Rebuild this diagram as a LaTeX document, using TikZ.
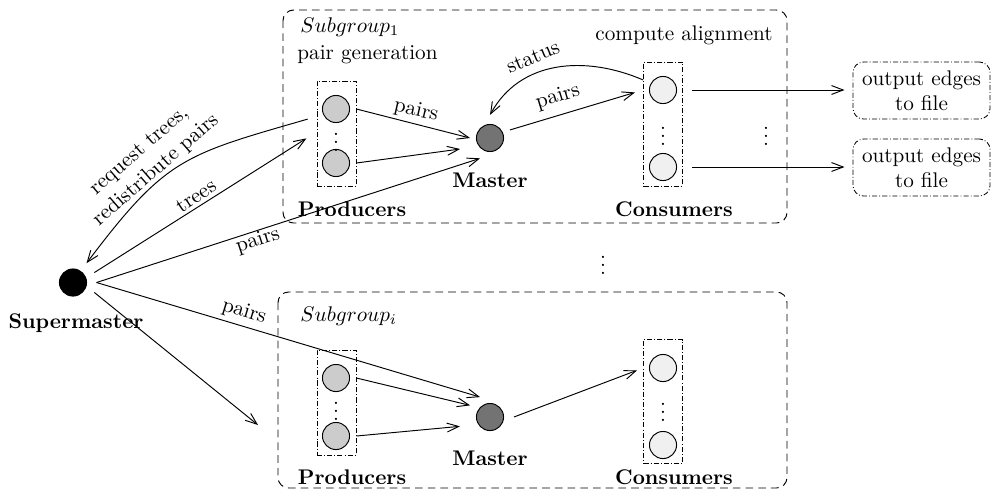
\documentclass[tikz,border=0pt]{standalone}
\usetikzlibrary{arrows.meta}
\begin{document}
\begin{tikzpicture}[x=0.472pt,y=-0.472pt,
  arr/.style={-{Straight Barb[length=5.5pt,width=4.2pt]}, line width=0.45pt},
  grp/.style={draw, dash pattern=on 3.6pt off 2.4pt, rounded corners=5pt, line width=0.45pt},
  ddbox/.style={draw, dash pattern=on 2.4pt off 1pt on 0.4pt off 1pt, line width=0.4pt, minimum width=18.4pt, minimum height=49.6pt, inner sep=0pt},
  outbox/.style={draw, dash pattern=on 2.4pt off 1pt on 0.4pt off 1pt, line width=0.4pt, rounded corners=5pt, minimum width=64.7pt, minimum height=26.9pt, align=center, inner sep=1pt},
  proc/.style={circle, draw, line width=0.45pt, minimum size=12.8pt, inner sep=0pt},
  prod/.style={proc, fill=black!20},
  cons/.style={proc, fill=black!6},
  mast/.style={proc, fill=black!55},
  smast/.style={proc, fill=black, outer sep=4.7pt},
  lbl/.style={font=\bfseries},
  vd/.style={inner sep=0pt}
]
\useasboundingbox (0,0) rectangle (992,493);

% groups
\draw[grp] (283,10) rectangle (787,223);
\draw[grp] (278,292) rectangle (787,488);

\node[anchor=west] (sg1) at (293,27) {$Subgroup_1$};
\node (pg) at (367.5,55) {pair generation};
\node (ca) at (684,35) {compute alignment};
\node[anchor=west] (sgi) at (293,316) {$Subgroup_i$};

% subgroup 1
\node[ddbox] (pbox1) at (336.5,133.5) {};
\node[prod] (p1a) at (336,109) {};
\node[prod] (p1b) at (336,163) {};
\node[vd] (pd1) at (336,136) {$\vdots$};
\node[lbl] (plbl1) at (352,209) {Producers};

\node[mast] (m1) at (490,138) {};
\node[lbl] (mlbl1) at (490,180) {Master};

\node[ddbox, minimum height=58.5pt] (cbox1) at (663,124) {};
\node[cons] (c1a) at (663,90) {};
\node[cons] (c1b) at (663,167) {};
\node[vd] (cd1) at (663,130) {$\vdots$};
\node[lbl] (clbl1) at (674,209) {Consumers};
\node[vd] (rd1) at (766,130) {$\vdots$};

\node[outbox] (o1) at (921.5,90.5) {output edges\\to file};
\node[outbox] (o2) at (921.5,167.5) {output edges\\to file};

% middle dots
\node[vd] (md) at (603,259) {$\vdots$};

% subgroup i
\node[ddbox] (pbox2) at (336.5,402.5) {};
\node[prod] (p2a) at (336,378) {};
\node[prod] (p2b) at (336,436) {};
\node[vd] (pd2) at (336,405) {$\vdots$};
\node[lbl] (plbl2) at (352,477) {Producers};

\node[mast] (m2) at (490,417) {};
\node[lbl] (mlbl2) at (490,458) {Master};

\node[ddbox, minimum height=58.5pt] (cbox2) at (663,401.5) {};
\node[cons] (c2a) at (663,368) {};
\node[cons] (c2b) at (663,445) {};
\node[vd] (cd2) at (663,406) {$\vdots$};
\node[lbl] (clbl2) at (674,477) {Consumers};

% supermaster
\node[smast] (sm) at (73,282.5) {};
\node[lbl] (smlbl) at (76,323) {Supermaster};
\coordinate (free) at (258,425);

% edges subgroup 1
\draw[arr] ([xshift=-4.2pt,yshift=6.8pt]pbox1.west) .. controls (183,155) and (166,158) .. (sm.55);
\node[rotate=41, align=center, inner sep=0pt] (rq) at (148,161) {request trees,\\redistribute pairs};
\draw[arr] (sm.25) -- ([xshift=-4.8pt,yshift=-2.3pt]pbox1.west);
\node[rotate=34, inner sep=0pt] (tr) at (196,196) {trees};
\draw[arr] (sm.east) -- ([xshift=-4.7pt,yshift=-9.6pt]m1.center);
\node[rotate=18, inner sep=0pt] (pr1) at (258,241) {pairs};
\draw[arr] (pbox1.east |- p1a) -- ([xshift=-2.8pt]m1.west);
\node[rotate=-13, inner sep=0pt] (pr2) at (416,111) {pairs};
\draw[arr] (pbox1.east |- p1b) -- ([xshift=-7.5pt,yshift=-5.2pt]m1.west);
\draw[arr, shorten >=4pt] ([xshift=9.4pt,yshift=3.8pt]m1.center) -- (cbox1.west |- c1a);
\node[rotate=17, inner sep=0pt] (pr3) at (558,97) {pairs};
\draw[arr] ([yshift=20.8pt]cbox1.west) .. controls (585,55) and (520,60) .. ([yshift=10.9pt]m1.center);
\node[rotate=23, inner sep=0pt] (st) at (533,57) {status};
\draw[arr, shorten <=7pt, shorten >=3.8pt] (c1a.east) -- (o1.west |- c1a);
\draw[arr, shorten <=7pt, shorten >=3.8pt] (c1b.east) -- (o2.west |- c1b);

% edges subgroup i
\draw[arr] (sm.east) -- ([xshift=-4.7pt,yshift=9.4pt]m2.center);
\node[rotate=-17, inner sep=0pt] (pr4) at (244,312) {pairs};
\draw[arr] (sm.-25) -- (free);
\draw[arr] (pbox2.east |- p2a) -- ([xshift=-9.4pt,yshift=5.5pt]m2.center);
\draw[arr] (pbox2.east |- p2b) -- ([xshift=-14.2pt,yshift=-4.4pt]m2.center);
\draw[arr, shorten >=3pt] ([xshift=11.3pt]m2.center) -- (cbox2.west |- c2a);
\end{tikzpicture}
\end{document}
